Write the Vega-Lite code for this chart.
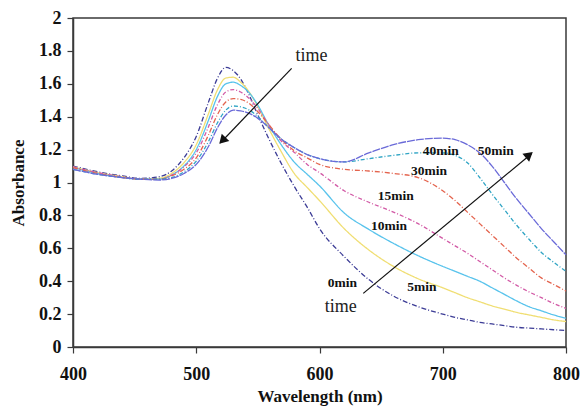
{
  "$schema": "https://vega.github.io/schema/vega-lite/v6.json",
  "width": 493,
  "height": 329,
  "autosize": {"type": "none"},
  "padding": {"left": 73, "top": 18, "right": 15, "bottom": 60},
  "background": "white",
  "config": {
    "view": {"stroke": "#3a3a3a", "strokeWidth": 1.5},
    "axis": {
      "grid": false,
      "domainColor": "#3a3a3a",
      "domainWidth": 1.5,
      "tickColor": "#3a3a3a",
      "tickWidth": 1.2,
      "tickSize": 6,
      "labelFont": "Liberation Serif",
      "labelFontWeight": "bold",
      "labelFontSize": 18,
      "labelColor": "#111",
      "labelOverlap": false,
      "labelFlush": false,
      "titleFont": "Liberation Serif",
      "titleFontWeight": "bold",
      "titleFontSize": 17,
      "titleColor": "#111"
    }
  },
  "datasets": {
    "spectra": [
      {"wl": 400, "0min": 1.10, "5min": 1.095, "10min": 1.09, "15min": 1.095, "30min": 1.09, "40min": 1.08, "50min": 1.08},
      {"wl": 420, "0min": 1.065, "5min": 1.06, "10min": 1.055, "15min": 1.06, "30min": 1.055, "40min": 1.05, "50min": 1.05},
      {"wl": 440, "0min": 1.04, "5min": 1.035, "10min": 1.03, "15min": 1.035, "30min": 1.03, "40min": 1.03, "50min": 1.03},
      {"wl": 455, "0min": 1.025, "5min": 1.02, "10min": 1.02, "15min": 1.02, "30min": 1.02, "40min": 1.02, "50min": 1.02},
      {"wl": 470, "0min": 1.035, "5min": 1.025, "10min": 1.02, "15min": 1.02, "30min": 1.02, "40min": 1.02, "50min": 1.015},
      {"wl": 480, "0min": 1.07, "5min": 1.055, "10min": 1.045, "15min": 1.045, "30min": 1.04, "40min": 1.03, "50min": 1.025},
      {"wl": 490, "0min": 1.15, "5min": 1.12, "10min": 1.10, "15min": 1.095, "30min": 1.08, "40min": 1.065, "50min": 1.055},
      {"wl": 500, "0min": 1.28, "5min": 1.23, "10min": 1.20, "15min": 1.18, "30min": 1.15, "40min": 1.13, "50min": 1.11},
      {"wl": 510, "0min": 1.49, "5min": 1.42, "10min": 1.38, "15min": 1.34, "30min": 1.29, "40min": 1.25, "50min": 1.22},
      {"wl": 517, "0min": 1.63, "5min": 1.56, "10min": 1.52, "15min": 1.47, "30min": 1.41, "40min": 1.36, "50min": 1.33},
      {"wl": 524, "0min": 1.70, "5min": 1.635, "10min": 1.60, "15min": 1.55, "30min": 1.49, "40min": 1.44, "50min": 1.41},
      {"wl": 530, "0min": 1.68, "5min": 1.64, "10min": 1.61, "15min": 1.565, "30min": 1.51, "40min": 1.465, "50min": 1.44},
      {"wl": 536, "0min": 1.63, "5min": 1.61, "10min": 1.59, "15min": 1.55, "30min": 1.505, "40min": 1.46, "50min": 1.435},
      {"wl": 543, "0min": 1.53, "5min": 1.55, "10min": 1.545, "15min": 1.51, "30min": 1.48, "40min": 1.44, "50min": 1.42},
      {"wl": 550, "0min": 1.41, "5min": 1.46, "10min": 1.47, "15min": 1.45, "30min": 1.43, "40min": 1.40, "50min": 1.39},
      {"wl": 558, "0min": 1.28, "5min": 1.34, "10min": 1.36, "15min": 1.36, "30min": 1.36, "40min": 1.34, "50min": 1.34},
      {"wl": 568, "0min": 1.13, "5min": 1.20, "10min": 1.24, "15min": 1.26, "30min": 1.27, "40min": 1.27, "50min": 1.27},
      {"wl": 580, "0min": 0.97, "5min": 1.05, "10min": 1.12, "15min": 1.18, "30min": 1.19, "40min": 1.21, "50min": 1.21},
      {"wl": 590, "0min": 0.85, "5min": 0.97, "10min": 1.05, "15min": 1.11, "30min": 1.15, "40min": 1.17, "50min": 1.17},
      {"wl": 600, "0min": 0.72, "5min": 0.89, "10min": 0.98, "15min": 1.06, "30min": 1.11, "40min": 1.145, "50min": 1.145},
      {"wl": 620, "0min": 0.55, "5min": 0.72, "10min": 0.815, "15min": 0.95, "30min": 1.08, "40min": 1.125, "50min": 1.125},
      {"wl": 640, "0min": 0.41, "5min": 0.59, "10min": 0.715, "15min": 0.88, "30min": 1.07, "40min": 1.145, "50min": 1.18},
      {"wl": 660, "0min": 0.31, "5min": 0.49, "10min": 0.63, "15min": 0.82, "30min": 1.055, "40min": 1.165, "50min": 1.23},
      {"wl": 680, "0min": 0.245, "5min": 0.415, "10min": 0.555, "15min": 0.75, "30min": 1.03, "40min": 1.18, "50min": 1.26},
      {"wl": 700, "0min": 0.20, "5min": 0.36, "10min": 0.49, "15min": 0.66, "30min": 0.95, "40min": 1.18, "50min": 1.27},
      {"wl": 710, "0min": 0.18, "5min": 0.33, "10min": 0.46, "15min": 0.615, "30min": 0.89, "40min": 1.165, "50min": 1.26},
      {"wl": 720, "0min": 0.165, "5min": 0.30, "10min": 0.43, "15min": 0.57, "30min": 0.82, "40min": 1.12, "50min": 1.23},
      {"wl": 730, "0min": 0.15, "5min": 0.275, "10min": 0.40, "15min": 0.52, "30min": 0.75, "40min": 1.03, "50min": 1.18},
      {"wl": 740, "0min": 0.14, "5min": 0.25, "10min": 0.36, "15min": 0.47, "30min": 0.68, "40min": 0.93, "50min": 1.10},
      {"wl": 750, "0min": 0.13, "5min": 0.23, "10min": 0.32, "15min": 0.42, "30min": 0.61, "40min": 0.835, "50min": 1.0},
      {"wl": 760, "0min": 0.12, "5min": 0.21, "10min": 0.28, "15min": 0.375, "30min": 0.54, "40min": 0.74, "50min": 0.90},
      {"wl": 770, "0min": 0.115, "5min": 0.195, "10min": 0.245, "15min": 0.335, "30min": 0.48, "40min": 0.655, "50min": 0.81},
      {"wl": 780, "0min": 0.11, "5min": 0.18, "10min": 0.22, "15min": 0.30, "30min": 0.42, "40min": 0.575, "50min": 0.72},
      {"wl": 790, "0min": 0.105, "5min": 0.165, "10min": 0.195, "15min": 0.265, "30min": 0.38, "40min": 0.515, "50min": 0.64},
      {"wl": 800, "0min": 0.10, "5min": 0.155, "10min": 0.175, "15min": 0.235, "30min": 0.34, "40min": 0.46, "50min": 0.56}
    ],
    "labels": [
      {"wl": 618.6, "A": 0.391, "label": "0min"},
      {"wl": 683, "A": 0.362, "label": "5min"},
      {"wl": 656.4, "A": 0.736, "label": "10min"},
      {"wl": 661.9, "A": 0.918, "label": "15min"},
      {"wl": 688.8, "A": 1.07, "label": "30min"},
      {"wl": 698.4, "A": 1.19, "label": "40min"},
      {"wl": 743, "A": 1.19, "label": "50min"}
    ],
    "timeText": [
      {"wl": 593.5, "A": 1.769, "label": "time"},
      {"wl": 617.3, "A": 0.245, "label": "time"}
    ],
    "arrows": [
      {"x": 577.4, "y": 1.694, "x2": 519.5, "y2": 1.24},
      {"x": 635.5, "y": 0.326, "x2": 772, "y2": 1.175}
    ],
    "head1": [{"wl": 521.2, "A": 1.255}],
    "head2": [{"wl": 770.2, "A": 1.168}]
  },
  "layer": [
    {
      "data": {"name": "spectra"},
      "transform": [
        {"fold": ["0min", "5min", "10min", "15min", "30min", "40min", "50min"], "as": ["series", "A"]}
      ],
      "mark": {"type": "line", "strokeWidth": 1.3, "interpolate": "monotone"},
      "encoding": {
        "x": {
          "field": "wl", "type": "quantitative",
          "scale": {"domain": [400, 800], "nice": false},
          "axis": {"values": [400, 500, 600, 700, 800], "tickCount": 20, "title": "Wavelength (nm)", "labelPadding": 12, "titlePadding": 5}
        },
        "y": {
          "field": "A", "type": "quantitative",
          "scale": {"domain": [0, 2], "nice": false},
          "axis": {"values": [0, 0.2, 0.4, 0.6, 0.8, 1, 1.2, 1.4, 1.6, 1.8, 2], "tickCount": 20, "format": ".1~f", "title": "Absorbance", "labelPadding": 6, "titlePadding": 11}
        },
        "color": {
          "field": "series", "type": "nominal", "legend": null,
          "scale": {
            "domain": ["0min", "5min", "10min", "15min", "30min", "40min", "50min"],
            "range": ["#3c3c96", "#f0de72", "#58c3ec", "#d25aa6", "#e4644e", "#2fa4c4", "#6a6ad8"]
          }
        },
        "strokeDash": {
          "field": "series", "type": "nominal", "legend": null,
          "scale": {
            "domain": ["0min", "5min", "10min", "15min", "30min", "40min", "50min"],
            "range": [[5, 2, 1, 2], [1, 0], [1, 0], [4, 2, 1, 2], [5, 2, 1, 2], [4, 2, 1, 2], [8, 1]]
          }
        },
        "order": {"field": "wl", "type": "quantitative"}
      }
    },
    {
      "data": {"name": "labels"},
      "mark": {"type": "text", "font": "Liberation Serif", "fontWeight": "bold", "fontSize": 13.5, "color": "#111"},
      "encoding": {
        "x": {"field": "wl", "type": "quantitative"},
        "y": {"field": "A", "type": "quantitative"},
        "text": {"field": "label"}
      }
    },
    {
      "data": {"name": "timeText"},
      "mark": {"type": "text", "font": "Liberation Serif", "fontSize": 18, "color": "#222"},
      "encoding": {
        "x": {"field": "wl", "type": "quantitative"},
        "y": {"field": "A", "type": "quantitative"},
        "text": {"field": "label"}
      }
    },
    {
      "data": {"name": "arrows"},
      "mark": {"type": "rule", "color": "#111", "strokeWidth": 1.2},
      "encoding": {
        "x": {"field": "x", "type": "quantitative"},
        "y": {"field": "y", "type": "quantitative"},
        "x2": {"field": "x2"},
        "y2": {"field": "y2"}
      }
    },
    {
      "data": {"name": "head1"},
      "mark": {"type": "point", "shape": "triangle-up", "filled": true, "color": "#111", "size": 110, "angle": 223.7, "opacity": 1},
      "encoding": {
        "x": {"field": "wl", "type": "quantitative"},
        "y": {"field": "A", "type": "quantitative"}
      }
    },
    {
      "data": {"name": "head2"},
      "mark": {"type": "point", "shape": "triangle-up", "filled": true, "color": "#111", "size": 110, "angle": 50.2, "opacity": 1},
      "encoding": {
        "x": {"field": "wl", "type": "quantitative"},
        "y": {"field": "A", "type": "quantitative"}
      }
    }
  ]
}
